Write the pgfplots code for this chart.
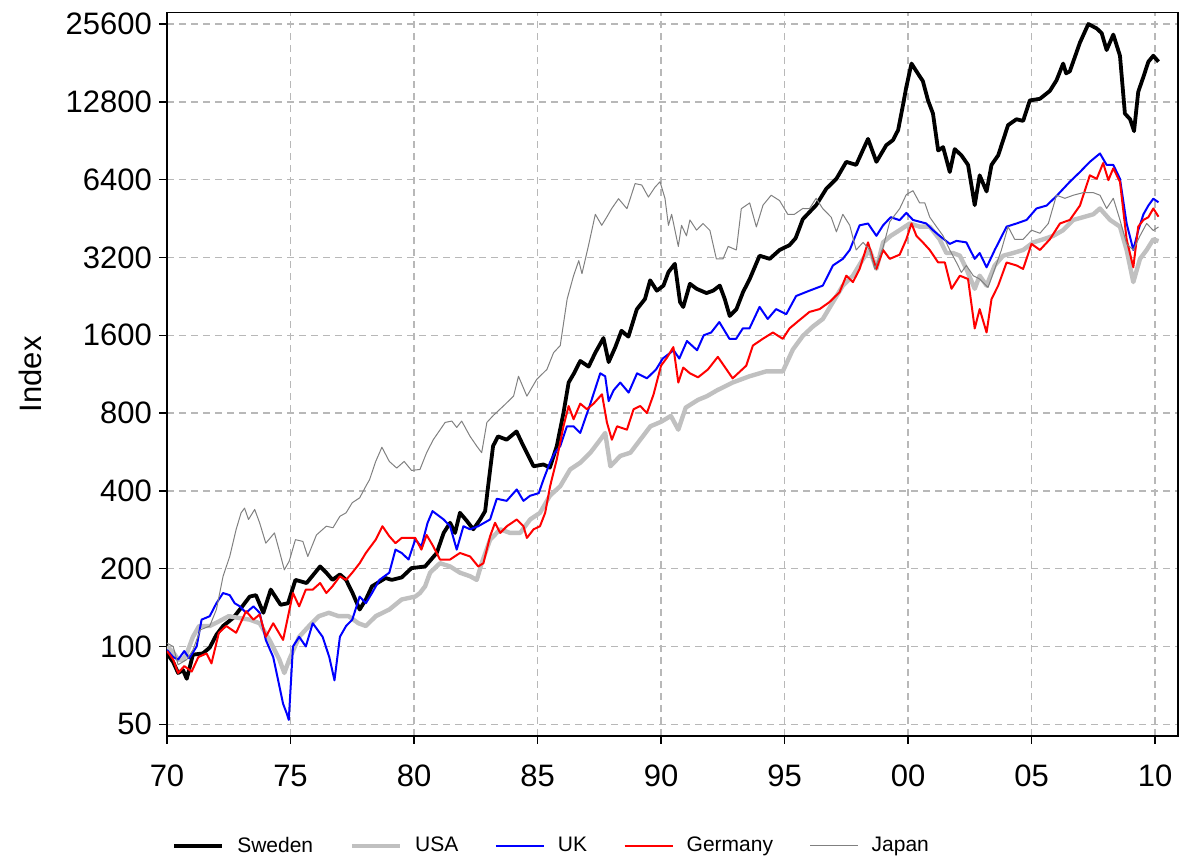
\documentclass[border=0pt]{standalone}
\usepackage{pgfplots}
\pgfplotsset{compat=1.18}
\usepackage{fontspec}
\setmainfont{Liberation Sans}
\definecolor{usagray}{HTML}{C0C0C0}
\definecolor{jpgray}{HTML}{808080}
\definecolor{ukblue}{HTML}{0000FF}
\definecolor{dered}{HTML}{FF0000}
\begin{document}
\begin{tikzpicture}
\begin{axis}[
  name=ax,
  scale only axis,
  width=505.5pt, height=361.75pt,
  xmin=1970, xmax=2010.93,
  ymode=log, log basis y=2,
  ymin=45.05, ymax=28370,
  xtick={1970,1975,1980,1985,1990,1995,2000,2005,2010},
  xticklabels={70,75,80,85,90,95,00,05,10},
  ytick={50,100,200,400,800,1600,3200,6400,12800,25600},
  yticklabels={50,100,200,400,800,1600,3200,6400,12800,25600},
  tick align=outside,
  xtick pos=bottom, ytick pos=left,
  major tick length=4pt,
  tick style={black, line width=0.75pt},
  axis line style={line width=0.75pt},
  /pgf/number format/assume math mode=true,
  tick label style={font=\fontsize{15.5}{18}\selectfont},
  xticklabel style={yshift=-7pt},
  ylabel={Index},
  ylabel style={font=\fontsize{15.5}{18}\selectfont, at={(axis description cs:-0.1355,0.5)}, anchor=center},
  grid=major,
  major grid style={color=black!28, dash pattern=on 3.5pt off 2.5pt, line width=0.75pt},
  legend columns=5,
  legend style={draw=none, fill=none, at={(0.005,-0.152)}, anchor=west, inner sep=0pt,
    font=\fontsize{10.5}{12}\selectfont,
    /tikz/every even column/.append style={column sep=16.3pt}},
  legend image code/.code={\draw[#1] (0pt,0pt) -- (24pt,0pt); \path (28.5pt,0pt);},
  every axis plot/.append style={line join=round},
]
\addplot[black, line width=1.9pt] table {
1970.0 94
1970.25 87
1970.45 79
1970.65 81
1970.8 75
1971.05 93
1971.45 94
1971.73 99
1972.0 111
1972.27 120
1972.68 129
1973.0 141
1973.35 156
1973.6 158
1973.9 135
1974.2 166
1974.6 145
1974.9 147
1975.2 181
1975.65 176
1976.2 204
1976.45 193
1976.7 181
1977.0 190
1977.25 181
1977.5 162
1977.8 139
1978.05 152
1978.3 171
1978.85 184
1979.1 181
1979.5 185
1979.9 201
1980.45 204
1980.92 230
1981.2 275
1981.46 301
1981.66 275
1981.86 329
1982.14 306
1982.4 284
1982.68 310
1982.88 334
1983.0 417
1983.2 596
1983.4 650
1983.75 631
1984.15 679
1984.43 596
1984.84 498
1985.24 506
1985.5 492
1985.78 596
1986.05 800
1986.26 1050
1986.5 1150
1986.73 1272
1987.07 1210
1987.34 1370
1987.67 1560
1987.88 1260
1988.15 1440
1988.4 1665
1988.68 1580
1989.02 2016
1989.35 2210
1989.56 2610
1989.83 2380
1990.1 2490
1990.3 2808
1990.56 3024
1990.77 2150
1990.9 2058
1991.17 2530
1991.44 2420
1991.84 2330
1992.11 2380
1992.38 2490
1992.58 2210
1992.78 1900
1993.05 2016
1993.32 2350
1993.59 2640
1993.99 3250
1994.4 3160
1994.8 3420
1995.2 3570
1995.45 3800
1995.74 4500
1996.28 5100
1996.69 5900
1997.1 6450
1997.5 7500
1997.9 7300
1998.38 9200
1998.72 7500
1999.12 8700
1999.39 9100
1999.6 9960
1999.8 12500
1999.93 14600
2000.14 18000
2000.34 16800
2000.6 15400
2000.81 12960
2001.01 11530
2001.22 8300
2001.42 8550
2001.69 6850
2001.89 8400
2002.16 7950
2002.43 7300
2002.7 5100
2002.9 6650
2003.18 5760
2003.38 7300
2003.65 7950
2004.05 10400
2004.39 10960
2004.66 10800
2004.93 12960
2005.34 13150
2005.74 14100
2006.01 15500
2006.28 18000
2006.4 16500
2006.55 16800
2006.96 21700
2007.3 25600
2007.64 24600
2007.84 23600
2008.04 20300
2008.31 23300
2008.58 19300
2008.78 11530
2008.99 10960
2009.15 9860
2009.32 14000
2009.53 16000
2009.73 18300
2009.93 19300
2010.14 18300
};
\addlegendentry{Sweden}
\addplot[usagray, line width=2.2pt] table {
1970.0 100
1970.25 95
1970.45 89
1970.65 89
1970.8 94
1971.05 109
1971.3 120
1971.73 120
1972.1 125
1972.5 131
1972.9 129
1973.35 127
1973.75 123
1974.15 106
1974.55 89
1974.75 79
1974.95 89
1975.35 109
1975.75 120
1976.15 131
1976.55 135
1976.95 131
1977.35 131
1977.75 123
1978.05 120
1978.45 131
1979.0 139
1979.5 152
1980.05 156
1980.24 161
1980.45 171
1980.65 193
1981.05 210
1981.46 204
1981.86 193
1982.27 187
1982.54 181
1982.74 210
1983.08 259
1983.49 284
1983.89 275
1984.3 275
1984.7 310
1985.1 329
1985.5 383
1985.92 417
1986.32 484
1986.73 514
1987.14 562
1987.54 631
1987.74 670
1987.95 498
1988.35 546
1988.76 562
1989.16 631
1989.57 711
1990.0 740
1990.4 780
1990.7 690
1991.0 840
1991.5 900
1991.86 930
1992.27 980
1992.9 1050
1993.58 1110
1994.26 1160
1994.93 1160
1995.34 1410
1995.74 1590
1996.15 1730
1996.55 1850
1996.96 2150
1997.36 2490
1997.77 2720
1998.18 3160
1998.45 3420
1998.72 2890
1998.99 3660
1999.3 3880
1999.66 4080
2000.07 4330
2000.47 4210
2000.88 4210
2001.28 3760
2001.55 3330
2001.82 3330
2002.1 3250
2002.36 2890
2002.7 2420
2002.9 2720
2003.18 2490
2003.51 2980
2003.85 3250
2004.26 3330
2004.66 3420
2005.07 3660
2005.47 3760
2005.88 3880
2006.28 4080
2006.69 4470
2007.09 4580
2007.5 4700
2007.77 4950
2008.18 4470
2008.58 4210
2008.85 3420
2009.12 2570
2009.39 3160
2009.66 3420
2009.93 3760
2010.14 3700
};
\addlegendentry{USA}
\addplot[ukblue, line width=1pt] table {
1970.0 97
1970.25 91
1970.45 89
1970.7 96
1970.9 90
1971.2 100
1971.4 127
1971.73 131
1972.0 147
1972.27 161
1972.54 158
1972.74 147
1972.95 143
1973.2 135
1973.5 143
1973.75 135
1974.0 106
1974.3 91
1974.5 74
1974.7 60
1974.85 55
1974.93 52
1975.1 100
1975.35 109
1975.62 100
1975.9 123
1976.3 109
1976.57 91
1976.78 74
1977.0 109
1977.25 120
1977.5 127
1977.8 156
1978.05 147
1978.3 161
1978.6 181
1979.0 193
1979.25 237
1979.5 230
1979.78 217
1980.05 259
1980.3 244
1980.55 301
1980.75 334
1981.2 310
1981.46 292
1981.73 237
1982.0 292
1982.27 284
1982.6 292
1983.08 310
1983.35 373
1983.75 366
1984.16 405
1984.43 366
1984.7 383
1985.05 392
1985.24 442
1985.5 514
1985.7 562
1985.92 596
1986.19 711
1986.46 711
1986.73 670
1987.14 870
1987.54 1140
1987.74 1110
1987.88 890
1988.08 980
1988.35 1050
1988.69 960
1989.03 1140
1989.43 1090
1989.8 1180
1990.07 1300
1990.51 1400
1990.74 1300
1991.05 1520
1991.46 1400
1991.73 1600
1992.03 1640
1992.36 1800
1992.77 1550
1993.04 1550
1993.31 1700
1993.58 1700
1993.99 2060
1994.32 1850
1994.66 2020
1995.07 1930
1995.47 2270
1996.01 2380
1996.55 2490
1996.96 2980
1997.36 3160
1997.64 3420
1998.04 4260
1998.38 4330
1998.72 3880
1998.99 4260
1999.3 4580
1999.66 4460
1999.93 4760
2000.2 4470
2000.74 4330
2001.01 4080
2001.28 3880
2001.69 3610
2001.96 3710
2002.36 3660
2002.7 3160
2002.9 3330
2003.18 2930
2003.51 3420
2003.99 4210
2004.39 4330
2004.8 4470
2005.2 4950
2005.61 5080
2006.01 5530
2006.55 6280
2006.96 6850
2007.36 7500
2007.77 8080
2008.04 7300
2008.31 7300
2008.58 6450
2008.85 4330
2009.12 3420
2009.32 4080
2009.53 4700
2009.73 5080
2009.93 5400
2010.14 5230
};
\addlegendentry{UK}
\addplot[dered, line width=1pt] table {
1970.0 96
1970.25 89
1970.45 79
1970.7 84
1971.0 80
1971.27 91
1971.6 94
1971.8 86
1972.1 113
1972.4 120
1972.8 113
1973.2 137
1973.5 127
1973.75 133
1974.0 109
1974.3 123
1974.7 106
1975.1 161
1975.35 143
1975.62 166
1975.9 166
1976.2 176
1976.45 161
1976.7 171
1977.0 187
1977.25 181
1977.5 193
1977.8 210
1978.05 230
1978.45 259
1978.72 292
1979.0 267
1979.25 251
1979.5 263
1979.78 263
1980.05 263
1980.3 237
1980.51 270
1980.78 244
1981.05 217
1981.46 217
1981.86 230
1982.27 223
1982.6 204
1982.81 210
1983.08 267
1983.28 301
1983.49 275
1983.76 292
1984.16 310
1984.43 292
1984.57 263
1984.84 284
1985.1 292
1985.31 329
1985.51 417
1985.78 530
1986.05 711
1986.26 852
1986.46 757
1986.73 870
1987.0 828
1987.27 870
1987.61 946
1987.81 736
1988.01 631
1988.22 711
1988.62 690
1988.89 828
1989.16 852
1989.43 800
1989.7 946
1990.0 1220
1990.24 1310
1990.5 1440
1990.7 1050
1990.9 1200
1991.17 1140
1991.5 1100
1991.9 1180
1992.3 1320
1992.9 1090
1993.45 1220
1993.72 1460
1994.12 1550
1994.53 1640
1994.93 1550
1995.2 1700
1995.6 1830
1996.01 1970
1996.42 2020
1996.82 2150
1997.23 2350
1997.5 2720
1997.77 2570
1998.04 2890
1998.38 3660
1998.58 3160
1998.72 2890
1998.99 3420
1999.26 3160
1999.66 3280
1999.93 3760
2000.14 4330
2000.34 3880
2000.6 3660
2000.88 3420
2001.22 3060
2001.49 3060
2001.76 2420
2002.1 2720
2002.43 2640
2002.7 1700
2002.9 2020
2003.18 1640
2003.38 2210
2003.65 2490
2003.99 3060
2004.39 2980
2004.66 2890
2005.0 3610
2005.34 3420
2005.74 3760
2006.15 4330
2006.55 4470
2006.96 5080
2007.36 6650
2007.64 6450
2007.9 7420
2008.11 6370
2008.31 7080
2008.58 6280
2008.85 3760
2009.12 2930
2009.32 4210
2009.53 4470
2009.73 4580
2009.93 4950
2010.14 4600
};
\addlegendentry{Germany}
\addplot[jpgray, line width=0.5pt] table {
1970.0 103
1970.25 100
1970.45 85
1970.8 89
1971.05 97
1971.35 116
1971.73 120
1972.0 139
1972.27 187
1972.54 223
1972.8 284
1973.0 329
1973.14 343
1973.3 310
1973.55 339
1973.75 301
1974.0 251
1974.35 275
1974.55 234
1974.75 198
1974.95 214
1975.2 259
1975.5 255
1975.7 223
1976.05 270
1976.45 292
1976.72 288
1977.0 319
1977.25 329
1977.5 360
1977.8 376
1978.05 417
1978.2 442
1978.45 520
1978.7 590
1979.0 520
1979.3 490
1979.6 520
1979.9 480
1980.24 484
1980.51 562
1980.78 631
1981.26 736
1981.53 745
1981.73 704
1981.93 745
1982.27 650
1982.54 596
1982.74 562
1982.95 736
1983.22 785
1983.62 852
1984.03 930
1984.23 1110
1984.57 930
1984.97 1081
1985.38 1180
1985.65 1370
1985.92 1460
1986.2 2210
1986.46 2720
1986.67 3110
1986.8 2770
1987.07 3580
1987.34 4700
1987.6 4260
1987.8 4580
1988.0 4940
1988.28 5400
1988.62 4940
1988.95 6180
1989.22 6100
1989.49 5480
1989.76 5990
1989.96 6280
1990.16 5420
1990.3 4260
1990.43 4700
1990.7 3530
1990.83 4260
1991.03 3880
1991.17 4470
1991.44 4080
1991.7 4330
1991.98 4070
1992.24 3160
1992.51 3160
1992.72 3530
1993.05 3420
1993.25 4940
1993.59 5200
1993.86 4200
1994.13 5100
1994.46 5570
1994.8 5310
1995.13 4700
1995.4 4700
1995.74 4950
1996.01 4940
1996.28 5420
1996.55 4940
1996.89 4580
1997.1 4020
1997.36 4700
1997.64 4260
1997.9 3420
1998.18 3660
1998.45 3420
1998.65 2890
1998.99 3500
1999.26 4400
1999.66 4940
1999.93 5600
2000.2 5800
2000.47 5200
2000.68 5200
2000.88 4580
2001.15 4210
2001.42 3880
2001.69 3420
2001.96 3060
2002.16 2800
2002.36 2980
2002.64 2720
2002.9 2640
2003.24 2450
2003.51 2890
2003.78 3420
2004.05 4210
2004.32 3760
2004.66 3760
2005.0 4080
2005.34 3970
2005.68 4330
2006.01 5570
2006.35 5420
2006.69 5570
2007.09 5700
2007.5 5700
2007.77 5570
2008.04 4950
2008.31 5420
2008.58 4470
2008.85 3610
2009.12 3420
2009.39 3880
2009.66 4330
2009.93 4070
2010.14 4200
};
\addlegendentry{Japan}
\end{axis}
\pgfresetboundingbox
\path ([xshift=-83.5pt,yshift=-62.5pt]ax.south west) rectangle ([xshift=1pt,yshift=6.25pt]ax.north east);
\end{tikzpicture}
\end{document}
